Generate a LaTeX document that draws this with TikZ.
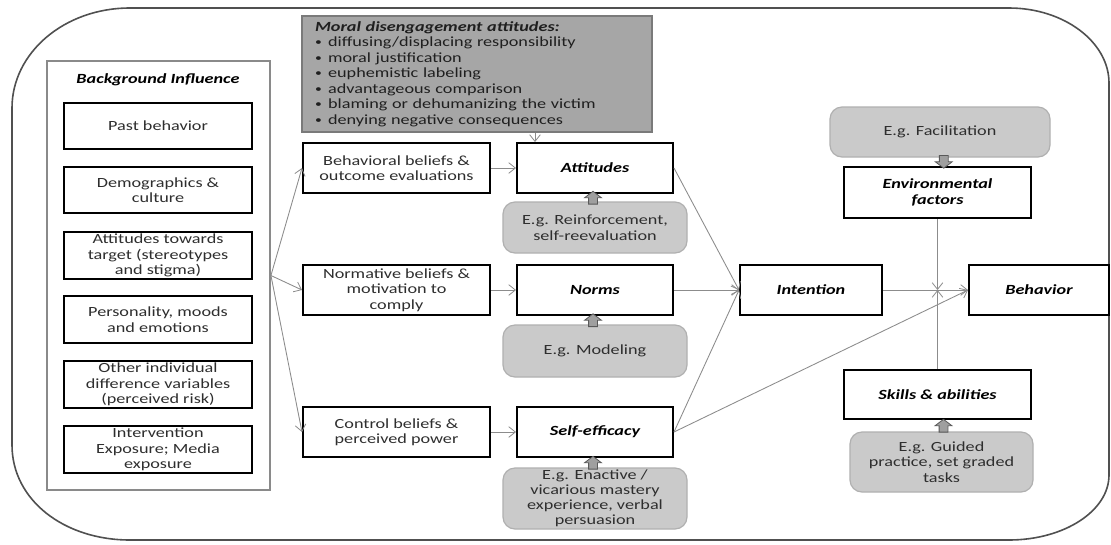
\documentclass[tikz,border=0pt]{standalone}
\usepackage{fontspec}
\setmainfont{Carlito}[FakeStretch=1.3]
\usetikzlibrary{arrows.meta,calc}
\definecolor{txt}{HTML}{2E2E2E}
\definecolor{frame}{HTML}{505050}
\definecolor{conn}{HTML}{8C8C8C}
\definecolor{moralfill}{HTML}{A6A6A6}
\definecolor{moraldraw}{HTML}{7A7A7A}
\definecolor{egfill}{HTML}{CACACA}
\definecolor{egdraw}{HTML}{B0B0B0}
\definecolor{bgdraw}{HTML}{8A8A8A}
\newcommand\bfi{\bfseries\itshape}
\newcommand\mybul{\raisebox{0.12ex}{\scalebox{0.75}{•}}\hspace{0.45em}}
\tikzset{
  every node/.style={font=\fontsize{10.5}{11.6}\selectfont, text=txt},
  sz/.style 2 args={minimum width=#1*0.75pt, minimum height=#2*0.75pt, inner sep=1pt},
  bbox/.style={draw=black, line width=1.5pt, fill=white, align=center},
  ebox/.style={draw=egdraw, line width=0.9pt, fill=egfill, rounded corners=9pt, align=center},
  hd/.style={font=\fontsize{10.5}{11.6}\selectfont\bfseries\itshape, text=black},
  conn/.style={draw=conn, line width=0.65pt, -{Straight Barb[length=5pt,width=8pt,line width=0.6pt]}},
  blockup/.pic={\draw[fill=gray!75, draw=gray!70!black, line width=0.6pt]
     (-3.3pt,-4.8pt) -- (3.3pt,-4.8pt) -- (3.3pt,0pt) -- (6.3pt,0pt) -- (0pt,4.8pt)
     -- (-6.3pt,0pt) -- (-3.3pt,0pt) -- cycle;},
  blockdown/.pic={\draw[fill=gray!75, draw=gray!70!black, line width=0.6pt]
     (-3.3pt,4.8pt) -- (3.3pt,4.8pt) -- (3.3pt,0pt) -- (6.3pt,0pt) -- (0pt,-4.8pt)
     -- (-6.3pt,0pt) -- (-3.3pt,0pt) -- cycle;}
}
\begin{document}
\begin{tikzpicture}[x=0.75pt,y=-0.75pt]
\useasboundingbox (0,0) rectangle (1111,544);
\fill[white] (0,0) rectangle (1111,544);
% outer frame
\draw[frame, line width=1.2pt]
  (130,8) -- (1009,8) .. controls (1064,8) and (1109,42) .. (1109,83)
  -- (1109,475) .. controls (1109,511) and (1064,540) .. (1009,540)
  -- (130,540) .. controls (64,540) and (12,500) .. (12,445)
  -- (12,108) .. controls (12,53) and (64,8) .. (130,8) -- cycle;

% background influence
\node[draw=bgdraw, line width=1.4pt, sz={223}{429}] (bg) at (158.5,275.5) {};
\node[hd] (bgtitle) at (158,80) {Background Influence};
\node[bbox, sz={188}{46}] (pb) at (158,126) {Past behavior};
\node[bbox, sz={188}{46}] (demo) at (158,190) {Demographics \&\\culture};
\node[bbox, sz={188}{47}] (attt) at (158,255.5) {Attitudes towards\\target (stereotypes\\and stigma)};
\node[bbox, sz={188}{47}] (pers) at (158,319.5) {Personality, moods\\and emotions};
\node[bbox, sz={188}{47}] (other) at (158,384.5) {Other individual\\difference variables\\(perceived risk)};
\node[bbox, sz={188}{47}] (interv) at (158,449.5) {Intervention\\Exposure; Media\\exposure};

% moral disengagement
\node[draw=moraldraw, fill=moralfill, line width=1.5pt, minimum height=87pt,
      inner xsep=9.75pt, inner ysep=1pt, text width=243pt, align=left, text=black!88]
  (moral) at (477,74)
  {{\bfi Moral disengagement attitudes:}\\
   \mybul diffusing/displacing responsibility\\
   \mybul moral justification\\
   \mybul euphemistic labeling\\
   \mybul advantageous comparison\\
   \mybul blaming or dehumanizing the victim\\
   \mybul denying negative consequences};

% middle column
\node[bbox, sz={187}{50}] (bb) at (396.5,168) {Behavioral beliefs \&\\outcome evaluations};
\node[bbox, sz={156}{50}, hd] (att) at (595,168) {Attitudes};
\node[ebox, sz={184}{51}] (reinf) at (595,227.5) {E.g. Reinforcement,\\self-reevaluation};
\node[bbox, sz={187}{50}] (nb) at (396.5,290) {Normative beliefs \&\\motivation to\\comply};
\node[bbox, sz={156}{50}, hd] (norms) at (595,290) {Norms};
\node[ebox, sz={184}{52}] (model) at (595,351) {E.g. Modeling};
\node[bbox, sz={187}{50}] (cb) at (396.5,432) {Control beliefs \&\\perceived power};
\node[bbox, sz={156}{50}, hd] (se) at (595,432) {Self-efficacy};
\node[ebox, sz={184}{61}, font=\fontsize{10.5}{11.2}\selectfont] (enact) at (595,498.5) {E.g. Enactive /\\vicarious mastery\\experience, verbal\\persuasion};

% right part
\node[bbox, sz={142}{50}, hd] (intent) at (811,290) {Intention};
\node[bbox, sz={140}{50}, hd] (behav) at (1039,290) {Behavior};
\node[ebox, sz={220}{50}] (facil) at (940,132) {E.g. Facilitation};
\node[bbox, sz={187}{51}, hd] (env) at (937.5,192.5) {Environmental\\factors};
\node[bbox, sz={187}{49}, hd] (skills) at (937.5,394.5) {Skills \& abilities};
\node[ebox, sz={183}{60}] (guided) at (941.5,462) {E.g. Guided\\practice, set graded\\tasks};

% connectors
\draw[conn] (bg.east) -- (bb.west);
\draw[conn] (bg.east) -- (nb.west);
\draw[conn] (bg.east) -- (cb.west);
\draw[conn] ([xshift=-45pt]att.north |- moral.south) -- ([xshift=-45pt]att.north);
\draw[conn] (bb.east) -- (att.west);
\draw[conn] (nb.east) -- (norms.west);
\draw[conn] (cb.east) -- (se.west);
\draw[conn] (att.east) -- (intent.west);
\draw[conn] (norms.east) -- (intent.west);
\draw[conn] (se.east) -- (intent.west);
\draw[conn] (se.east) -- (behav.west);
\draw[conn] (intent.east) -- (behav.west);
\coordinate (X) at (env.south |- behav.west);
\draw[conn] (env.south) -- (X);
\draw[conn] (skills.north) -- (X);

% block arrows
\pic at ($(reinf.north)!0.5!(att.south)+(-2,0)$) {blockup};
\pic at ($(model.north)!0.5!(norms.south)+(-2,0)$) {blockup};
\pic at ($(enact.north)!0.5!(se.south)+(-2,0)$) {blockup};
\pic at ($(guided.north)!0.5!(skills.south)+(4,0)$) {blockup};
\pic at ($(facil.south)!0.5!(env.north)+(5,0)$) {blockdown};
\end{tikzpicture}
\end{document}
